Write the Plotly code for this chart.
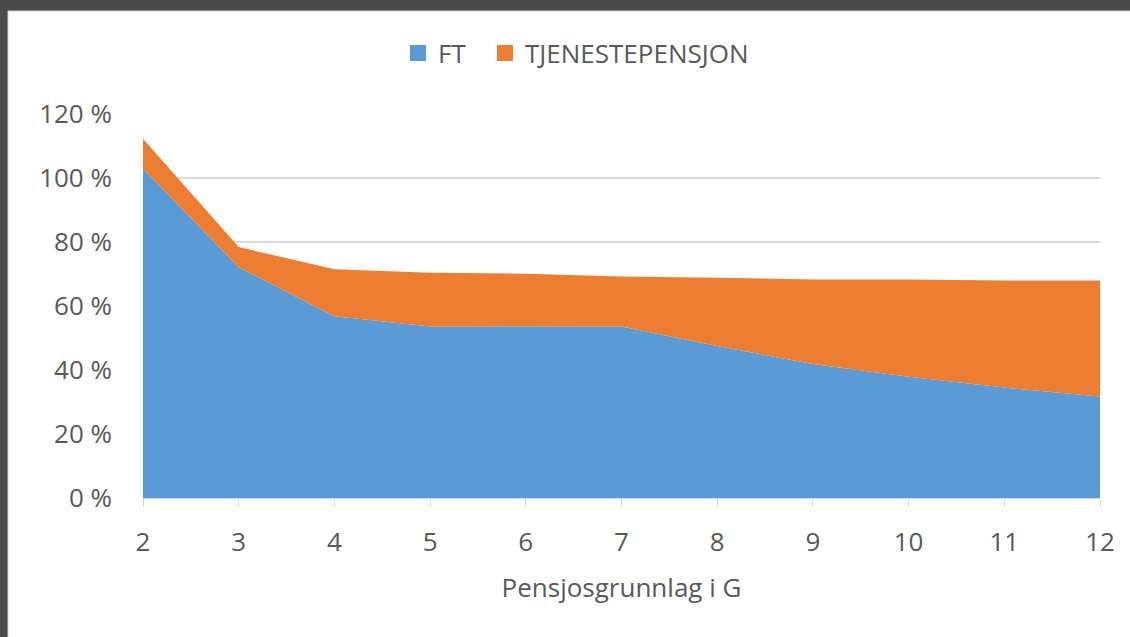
import plotly.graph_objects as go

x_vals = [2, 3, 4, 5, 6, 7, 8, 9, 10, 11, 12]
ft = [103.0, 72.1, 56.8, 53.6, 53.7, 53.6, 47.5, 41.9, 37.9, 34.5, 31.7]
tjeneste = [9.3, 6.3, 14.7, 16.8, 16.4, 15.6, 21.3, 26.4, 30.4, 33.5, 36.3]
y_ticks = [0, 20, 40, 60, 80, 100, 120]
y_tick_labels = ["0 %", "20 %", "40 %", "60 %", "80 %", "100 %", "120 %"]

series_names = ["FT", "TJENESTEPENSJON"]
series_colors = ["#5b9bd5", "#ed7d31"]

font_family = "'Open Sans', Lato, sans-serif"
text_color = "#595959"
fs = 26

L, R, T, B = 143, 30, 114, 139
W, H = 1130, 637
pw, ph = W - L - R, H - T - B

def px_x(p):
    return (p - L) / pw

def px_y(p):
    return (H - B - p) / ph

fig = go.Figure()
for name, vals, col in zip(series_names, [ft, tjeneste], series_colors):
    fig.add_trace(go.Scatter(
        x=x_vals, y=vals, name=name, stackgroup="one", mode="none",
        fillcolor=col, showlegend=False))
# legend entries with square swatches, each in its own legend box
legend_ids = ["legend", "legend2"]
legend_x_px = [398, 485]
for name, col, lid in zip(series_names, series_colors, legend_ids):
    fig.add_trace(go.Scatter(
        x=[None], y=[None], name=name, mode="markers", legend=lid,
        marker=dict(symbol="square", size=20, color=col), showlegend=True))

fig.add_shape(type="rect", xref="paper", yref="paper",
              x0=px_x(8), x1=px_x(1135), y0=px_y(642), y1=px_y(11),
              fillcolor="white", line=dict(color="#d0d0d0", width=1), layer="below")

legend_common = dict(orientation="h", xanchor="left", y=px_y(53), yanchor="middle",
                     font=dict(size=fs, color=text_color), bgcolor="rgba(0,0,0,0)",
                     itemwidth=30)

fig.update_layout(
    width=W, height=H,
    margin=dict(l=L, r=R, t=T, b=B),
    paper_bgcolor="#4a4a4a",
    plot_bgcolor="white",
    font=dict(family=font_family, color=text_color, size=fs),
    showlegend=True,
    legend=dict(x=px_x(legend_x_px[0]), **legend_common),
    legend2=dict(x=px_x(legend_x_px[1]), **legend_common),
    xaxis=dict(
        range=[2, 12], tickvals=x_vals, showgrid=False, zeroline=False,
        showline=True, linecolor="#d9d9d9", linewidth=1,
        ticks="outside", ticklen=8, tickcolor="#d9d9d9",
        ticklabelstandoff=13,
        tickfont=dict(size=fs, color=text_color),
        title=dict(text="Pensjosgrunnlag i G", font=dict(size=fs, color=text_color), standoff=20),
    ),
    yaxis=dict(
        range=[0, 120], tickvals=y_ticks, ticktext=y_tick_labels,
        showgrid=True, gridcolor="#d9d9d9", gridwidth=2, zeroline=False,
        showline=False, ticks="", ticklabelstandoff=30,
        tickfont=dict(size=fs, color=text_color),
    ),
)

fig.write_html("out.html", config={"displayModeBar": False},
               post_script="document.body.style.margin='0';document.body.style.overflow='hidden';document.body.style.background='#4a4a4a';")
